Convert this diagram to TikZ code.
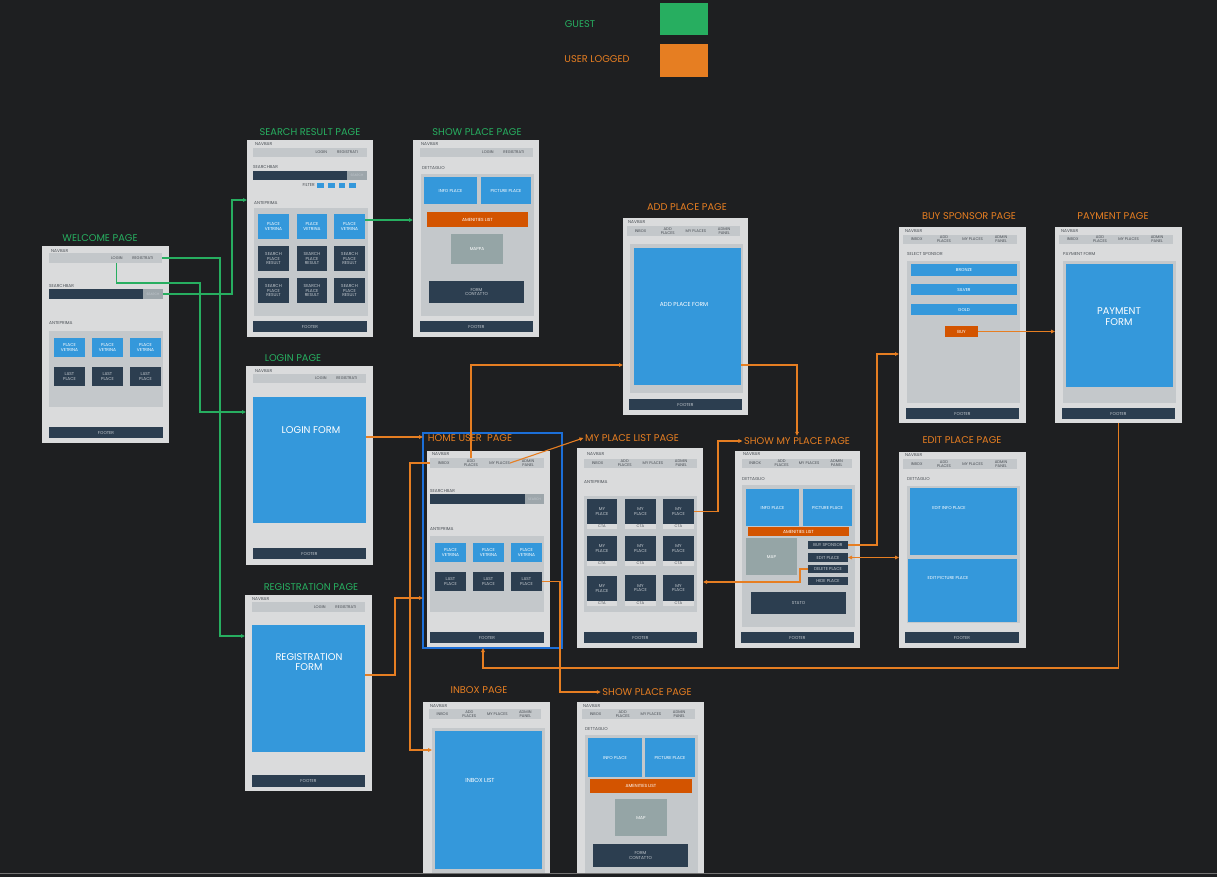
\documentclass[tikz,border=0pt]{standalone}
\usepackage{fontspec}
\setmainfont{Poppins}
\usetikzlibrary{arrows.meta}

\definecolor{bgc}{HTML}{1E1F21}
\definecolor{pagec}{HTML}{DADBDC}
\definecolor{stripc}{HTML}{C3C7CA}
\definecolor{panelc}{HTML}{C4C8CB}
\definecolor{darkc}{HTML}{2C3E50}
\definecolor{bluec}{HTML}{3498DB}
\definecolor{orc}{HTML}{D35400}
\definecolor{mapc}{HTML}{95A5A6}
\definecolor{btnc}{HTML}{9DA6AB}
\definecolor{greenc}{HTML}{27AE60}
\definecolor{orangec}{HTML}{E67E22}
\definecolor{lblc}{HTML}{4A4F55}
\definecolor{lightc}{HTML}{C2C8CE}
\definecolor{hlc}{HTML}{1C6FD8}

\newcommand{\fsz}[2]{\fontsize{#1}{#2}\selectfont}

% box by corners: name, style, x1, y1, x2, y2, text
\newcommand{\bx}[7]{\node[#2,minimum width={(#5-#3)*1pt},minimum height={(#6-#4)*1pt}] (#1) at ({(#3+#5)/2},{(#4+#6)/2}) {#7};}

% guest navbar
\newcommand{\gnav}[5]{%
  \bx{#1Nav}{strip}{#2}{#3}{#4}{#5}{}
  \node[item] (#1Login) at ({#2+0.6*(#4-#2)},{(#3+#5)/2}) {LOGIN};
  \node[item] (#1Reg) at ({#2+0.83*(#4-#2)},{(#3+#5)/2}) {REGISTRATI};}

% logged-in navbar
\newcommand{\unav}[5]{%
  \bx{#1Nav}{strip}{#2}{#3}{#4}{#5}{}
  \node[item] (#1Inbox) at ({#2+0.12*(#4-#2)},{(#3+#5)/2}) {INBOX};
  \node[item] (#1Add) at ({#2+0.36*(#4-#2)},{(#3+#5)/2}) {ADD\\PLACES};
  \node[item] (#1My) at ({#2+0.61*(#4-#2)},{(#3+#5)/2}) {MY PLACES};
  \node[item] (#1Admin) at ({#2+0.86*(#4-#2)},{(#3+#5)/2}) {ADMIN\\PANEL};}

\tikzset{
  box/.style={inner sep=0pt, outer sep=0pt, align=center},
  page/.style={box, fill=pagec},
  strip/.style={box, fill=stripc},
  panel/.style={box, fill=panelc},
  dk/.style={box, fill=darkc, text=lightc, font={\fsz{4.3}{4.9}}},
  bl/.style={box, fill=bluec, text=white, font={\fsz{4.3}{4.9}}},
  orb/.style={box, fill=orc, text=white, font={\fsz{4.4}{5}}},
  mapb/.style={box, fill=mapc, text=white, font={\fsz{4.3}{4.9}}},
  btn/.style={box, fill=btnc, text=lightc, font={\fsz{3.3}{3.8}}},
  cta/.style={box, fill=pagec, text=lblc, font={\fsz{3.8}{4.2}}},
  bigtxt/.style={inner sep=0pt, text=white, align=center, font={\fsz{9.8}{10.8}}},
  midtxt/.style={inner sep=0pt, text=white, align=center, font={\fsz{5.8}{6.8}}},
  lbl/.style={anchor=west, inner sep=0pt, font={\fsz{4.3}{4.8}}, text=lblc},
  item/.style={inner sep=0pt, align=center, font={\fsz{3.9}{4}}, text=lblc},
  gtitle/.style={inner sep=1.5pt, font={\fsz{9.8}{11}}, text=greenc},
  otitle/.style={inner sep=1.5pt, font={\fsz{9.8}{11}}, text=orangec},
  tip/.style={-{Triangle[length=4pt,width=3.6pt]}},
  garr/.style={draw=greenc, line width=1.1pt, tip},
  oarr/.style={draw=orangec, line width=1.1pt, tip},
  oarrb/.style={draw=orangec, line width=1.1pt, {Triangle[length=4pt,width=3.6pt]}-{Triangle[length=4pt,width=3.6pt]}},
}

\begin{document}
\begin{tikzpicture}[x=1pt,y=-1pt]
\fill[bgc] (0,0) rectangle (1217,877);
\useasboundingbox (0,0) rectangle (1217,877);

% ---------- legend ----------
\node[inner sep=0pt, font={\fsz{9.8}{11}}, text=greenc] (legG) at (580,24) {GUEST};
\bx{legGBox}{box,fill=greenc}{660}{3}{708}{35}{}
\node[inner sep=0pt, font={\fsz{9.8}{11}}, text=orangec] (legU) at (597,59) {USER LOGGED};
\bx{legUBox}{box,fill=orangec}{660}{44}{708}{77}{}

% ---------- welcome page ----------
\bx{wPage}{page}{42}{246}{169}{443}{}
\node[lbl] (wNavL) at (51,251) {NAVBAR};
\gnav{w}{49}{253}{162}{263}
\node[lbl] (wSearchL) at (49,286) {SEARCHBAR};
\bx{wSearch}{dk}{49}{289}{143}{299}{}
\bx{wBtn}{btn}{143}{289}{163}{299}{SEARCH}
\node[lbl] (wAnteL) at (49,323) {ANTEPRIMA};
\bx{wPanel}{panel}{49}{331}{163}{407}{}
\bx{wV1}{bl}{54}{338}{85}{357}{PLACE\\VETRINA}
\bx{wV2}{bl}{92}{338}{123}{357}{PLACE\\VETRINA}
\bx{wV3}{bl}{130}{338}{161}{357}{PLACE\\VETRINA}
\bx{wL1}{dk}{54}{367}{85}{386}{LAST\\PLACE}
\bx{wL2}{dk}{92}{367}{123}{386}{LAST\\PLACE}
\bx{wL3}{dk}{130}{367}{161}{386}{LAST\\PLACE}
\bx{wFoot}{dk}{49}{427}{163}{438}{FOOTER}
\node[gtitle] (wTitle) at (100,238) {WELCOME PAGE};

% ---------- search result page ----------
\bx{sPage}{page}{247}{140}{373}{337}{}
\node[lbl] (sNavL) at (255,144) {NAVBAR};
\gnav{s}{253}{148}{367}{157}
\node[lbl] (sSearchL) at (253,167) {SEARCHBAR};
\bx{sSearch}{dk}{253}{171}{347}{180}{}
\bx{sBtn}{btn}{347}{171}{367}{180}{SEARCH}
\node[lbl, anchor=east] (sFilterL) at (315,185.5) {FILTER};
\bx{sF1}{box,fill=bluec}{317}{183}{324}{188}{}
\bx{sF2}{box,fill=bluec}{328}{183}{335}{188}{}
\bx{sF3}{box,fill=bluec}{339}{183}{345}{188}{}
\bx{sF4}{box,fill=bluec}{349}{183}{356}{188}{}
\node[lbl] (sAnteL) at (254,203) {ANTEPRIMA};
\bx{sPanel}{panel}{254}{208}{368}{316}{}
\bx{sV1}{bl}{258}{214}{289}{239}{PLACE\\VETRINA}
\bx{sV2}{bl}{297}{214}{327}{239}{PLACE\\VETRINA}
\bx{sV3}{bl}{334}{214}{365}{239}{PLACE\\VETRINA}
\bx{sR11}{dk}{258}{246}{289}{271}{SEARCH\\PLACE\\RESULT}
\bx{sR12}{dk}{297}{246}{327}{271}{SEARCH\\PLACE\\RESULT}
\bx{sR13}{dk}{334}{246}{365}{271}{SEARCH\\PLACE\\RESULT}
\bx{sR21}{dk}{258}{278}{289}{303}{SEARCH\\PLACE\\RESULT}
\bx{sR22}{dk}{297}{278}{327}{303}{SEARCH\\PLACE\\RESULT}
\bx{sR23}{dk}{334}{278}{365}{303}{SEARCH\\PLACE\\RESULT}
\bx{sFoot}{dk}{253}{321}{367}{332}{FOOTER}
\node[gtitle] (sTitle) at (310,132) {SEARCH RESULT PAGE};

% ---------- show place page (guest) ----------
\bx{pPage}{page}{413}{140}{539}{337}{}
\node[lbl] (pNavL) at (421,144) {NAVBAR};
\gnav{p}{420}{148}{533}{157}
\node[lbl] (pDetL) at (422,168) {DETTAGLIO};
\bx{pPanel}{panel}{421}{174}{534}{316}{}
\bx{pInfo}{bl}{424}{177}{477}{204}{INFO PLACE}
\bx{pPic}{bl}{481}{177}{531}{204}{PICTURE PLACE}
\bx{pAmen}{orb}{427}{212}{528}{227}{AMENITIES LIST}
\bx{pMap}{mapb}{451}{234}{503}{264}{MAPPA}
\bx{pForm}{dk}{429}{281}{524}{303}{FORM\\CONTATTO}
\bx{pFoot}{dk}{420}{321}{533}{332}{FOOTER}
\node[gtitle] (pTitle) at (477,132) {SHOW PLACE PAGE};

% ---------- login page ----------
\bx{lPage}{page}{246}{366}{373}{565}{}
\node[lbl] (lNavL) at (255,371) {NAVBAR};
\gnav{l}{253}{374}{366}{383}
\bx{lForm}{bl}{253}{397}{366}{523}{}
\node[bigtxt] (lFormT) at (311,430) {LOGIN FORM};
\bx{lFoot}{dk}{253}{548}{366}{559}{FOOTER}
\node[gtitle] (lTitle) at (293,358) {LOGIN PAGE};

% ---------- registration page ----------
\bx{rPage}{page}{245}{595}{372}{791}{}
\node[lbl] (rNavL) at (252,599) {NAVBAR};
\gnav{r}{252}{602}{365}{612}
\bx{rForm}{bl}{252}{625}{365}{752}{}
\node[bigtxt] (rFormT) at (309,662) {REGISTRATION\\FORM};
\bx{rFoot}{dk}{252}{775}{365}{787}{FOOTER}
\node[gtitle] (rTitle) at (311,587) {REGISTRATION PAGE};

% ---------- home user page ----------
\bx{hPage}{page}{427}{451}{550}{648}{}
\node[lbl] (hNavL) at (432,454) {NAVBAR};
\unav{h}{430}{458}{544}{468}
\node[lbl] (hSearchL) at (430,491) {SEARCHBAR};
\bx{hSearch}{dk}{430}{494}{525}{504}{}
\bx{hBtn}{btn}{525}{494}{544}{504}{SEARCH}
\node[lbl] (hAnteL) at (430,529) {ANTEPRIMA};
\bx{hPanel}{panel}{430}{536}{544}{612}{}
\bx{hV1}{bl}{435}{543}{466}{562}{PLACE\\VETRINA}
\bx{hV2}{bl}{473}{543}{504}{562}{PLACE\\VETRINA}
\bx{hV3}{bl}{511}{543}{542}{562}{PLACE\\VETRINA}
\bx{hL1}{dk}{435}{572}{466}{591}{LAST\\PLACE}
\bx{hL2}{dk}{473}{572}{504}{591}{LAST\\PLACE}
\bx{hL3}{dk}{511}{572}{542}{591}{LAST\\PLACE}
\bx{hFoot}{dk}{430}{632}{544}{643}{FOOTER}
\bx{hBlue}{box,draw=hlc,line width=1.6pt}{423}{433}{562}{648}{}
\node[otitle] (hTitle) at (470,438) {HOME USER~~PAGE};

% ---------- my place list page ----------
\bx{mPage}{page}{577}{448}{703}{648}{}
\node[lbl] (mNavL) at (587,454) {NAVBAR};
\unav{m}{584}{459}{697}{468}
\node[lbl] (mAnteL) at (584,482) {ANTEPRIMA};
\bx{mPanel}{panel}{584}{496}{697}{612}{}
\bx{m11}{dk}{587}{499}{617}{524}{MY\\PLACE}
\bx{m12}{dk}{625}{499}{656}{524}{MY\\PLACE}
\bx{m13}{dk}{663}{499}{694}{524}{MY\\PLACE}
\bx{m11c}{cta}{587}{524}{617}{529}{CTA}
\bx{m12c}{cta}{625}{524}{656}{529}{CTA}
\bx{m13c}{cta}{663}{524}{694}{529}{CTA}
\bx{m21}{dk}{587}{536}{617}{561}{MY\\PLACE}
\bx{m22}{dk}{625}{536}{656}{561}{MY\\PLACE}
\bx{m23}{dk}{663}{536}{694}{561}{MY\\PLACE}
\bx{m21c}{cta}{587}{561}{617}{566}{CTA}
\bx{m22c}{cta}{625}{561}{656}{566}{CTA}
\bx{m23c}{cta}{663}{561}{694}{566}{CTA}
\bx{m31}{dk}{587}{576}{617}{601}{MY\\PLACE}
\bx{m32}{dk}{625}{575}{656}{601}{MY\\PLACE}
\bx{m33}{dk}{663}{575}{694}{601}{MY\\PLACE}
\bx{m31c}{cta}{587}{601}{617}{606}{CTA}
\bx{m32c}{cta}{625}{601}{656}{606}{CTA}
\bx{m33c}{cta}{663}{601}{694}{606}{CTA}
\bx{mFoot}{dk}{584}{632}{697}{643}{FOOTER}
\node[otitle] (mTitle) at (632,438) {MY PLACE LIST PAGE};

% ---------- show my place page ----------
\bx{smPage}{page}{735}{451}{860}{648}{}
\node[lbl] (smNavL) at (743,454) {NAVBAR};
\unav{sm}{742}{459}{852}{468}
\node[lbl] (smDetL) at (742,479) {DETTAGLIO};
\bx{smPanel}{panel}{742}{485}{855}{627}{}
\bx{smInfo}{bl}{746}{489}{799}{526}{INFO PLACE}
\bx{smPic}{bl}{803}{489}{852}{526}{PICTURE PLACE}
\bx{smAmen}{orb}{748}{527}{849}{536}{AMENITIES LIST}
\bx{smMap}{mapb}{746}{538}{797}{575}{MAP}
\bx{smBuy}{dk}{808}{541}{848}{549}{BUY SPONSOR}
\bx{smEdit}{dk}{808}{553}{848}{562}{EDIT PLACE}
\bx{smDel}{dk}{808}{565}{848}{573}{DELETE PLACE}
\bx{smHide}{dk}{808}{577}{848}{585}{HIDE PLACE}
\bx{smStato}{dk}{751}{592}{846}{614}{STATO}
\bx{smFoot}{dk}{741}{632}{854}{643}{FOOTER}
\node[otitle] (smTitle) at (797,441) {SHOW MY PLACE PAGE};

% ---------- add place page ----------
\bx{aPage}{page}{623}{218}{748}{415}{}
\node[lbl] (aNavL) at (628,222) {NAVBAR};
\unav{a}{627}{226}{740}{236}
\bx{aPanel}{panel}{630}{244}{743}{393}{}
\bx{aForm}{bl}{634}{248}{741}{385}{}
\node[midtxt] (aFormT) at (684,304) {ADD PLACE FORM};
\bx{aFoot}{dk}{629}{399}{742}{410}{FOOTER}
\node[otitle] (aTitle) at (687,207) {ADD PLACE PAGE};

% ---------- buy sponsor page ----------
\bx{bPage}{page}{899}{227}{1026}{423}{}
\node[lbl] (bNavL) at (905,231) {NAVBAR};
\unav{b}{903}{235}{1017}{244}
\node[lbl] (bSelL) at (907,254) {SELECT SPONSOR};
\bx{bPanel}{panel}{907}{261}{1020}{403}{}
\bx{bBronze}{bl}{911}{264}{1017}{276}{BRONZE}
\bx{bSilver}{bl}{911}{284}{1017}{295}{SILVER}
\bx{bGold}{bl}{911}{304}{1017}{315}{GOLD}
\bx{bBuy}{orb}{945}{326}{978}{337}{BUY}
\bx{bFoot}{dk}{906}{408}{1019}{419}{FOOTER}
\node[otitle] (bTitle) at (969,216) {BUY SPONSOR PAGE};

% ---------- payment page ----------
\bx{yPage}{page}{1055}{227}{1182}{423}{}
\node[lbl] (yNavL) at (1061,231) {NAVBAR};
\unav{y}{1059}{235}{1173}{244}
\node[lbl] (yFormL) at (1063,254) {PAYMENT FORM};
\bx{yPanel}{panel}{1063}{261}{1176}{403}{}
\bx{yForm}{bl}{1066}{264}{1173}{387}{}
\node[bigtxt] (yFormT) at (1119,317) {PAYMENT\\FORM};
\bx{yFoot}{dk}{1062}{408}{1175}{419}{FOOTER}
\node[otitle] (yTitle) at (1113,216) {PAYMENT PAGE};

% ---------- edit place page ----------
\bx{ePage}{page}{899}{452}{1026}{648}{}
\node[lbl] (eNavL) at (905,455) {NAVBAR};
\unav{e}{903}{459}{1017}{469}
\node[lbl] (eDetL) at (907,479) {DETTAGLIO};
\bx{ePanel}{panel}{907}{486}{1020}{623}{}
\bx{eInfo}{bl}{910}{488}{1017}{555}{}
\node[inner sep=0pt, text=white, font={\fsz{4.3}{4.9}}] (eInfoT) at (949,508) {EDIT INFO PLACE};
\bx{ePic}{bl}{908}{559}{1017}{622}{}
\node[inner sep=0pt, text=white, font={\fsz{4.3}{4.9}}] (ePicT) at (948,578) {EDIT PICTURE PLACE};
\bx{eFoot}{dk}{905}{632}{1019}{643}{FOOTER}
\node[otitle] (eTitle) at (962,440) {EDIT PLACE PAGE};

% ---------- inbox page ----------
\bx{iPage}{page}{423}{702}{550}{873}{}
\node[lbl] (iNavL) at (430,706) {NAVBAR};
\unav{i}{429}{709}{541}{719}
\bx{iPanel}{panel}{432}{728}{545}{873}{}
\bx{iList}{bl}{435}{731}{542}{869}{}
\node[midtxt] (iListT) at (480,780) {INBOX LIST};
\node[otitle] (iTitle) at (479,690) {INBOX PAGE};

% ---------- show place page (logged in) ----------
\bx{qPage}{page}{577}{702}{704}{873}{}
\node[lbl] (qNavL) at (583,706) {NAVBAR};
\unav{q}{582}{709}{695}{719}
\node[lbl] (qDetL) at (585,729) {DETTAGLIO};
\bx{qPanel}{panel}{585}{735}{698}{873}{}
\bx{qInfo}{bl}{588}{738}{642}{777}{INFO PLACE}
\bx{qPic}{bl}{645}{738}{695}{777}{PICTURE PLACE}
\bx{qAmen}{orb}{590}{779}{692}{793}{AMENITIES LIST}
\bx{qMap}{mapb}{615}{799}{667}{836}{MAP}
\bx{qForm}{dk}{593}{844}{688}{867}{FORM\\CONTATTO}
\node[otitle] (qTitle) at (647,692) {SHOW PLACE PAGE};

% bottom edge
\fill[bgc] (0,873) rectangle (1217,877);
\draw[color=black!55!white, line width=0.6pt] (0,873.3) -- (1217,873.3);

% ---------- guest connectors ----------
\draw[garr] (wNav.east) -- (220,258) -- (220,636) -- (rPage.west |- 0,636);
\draw[garr] (wNav.south -| wLogin) -- (wLogin |- 0,283) -- (200,283) -- (200,412) -- (lPage.west |- 0,412);
\draw[garr] (wBtn.east) -- (232,294) -- (232,200) -- (sPage.west |- 0,200);
\draw[garr] (sV3.east |- 0,220) -- (pPage.west |- 0,220);

% ---------- logged-in connectors ----------
\draw[oarr] (lForm.east |- 0,437) -- (hBlue.west |- 0,437);
\draw[oarr] (rForm.east |- 0,675) -- (395,675) -- (395,598) -- (hBlue.west |- 0,598);
\draw[oarr] (hNav.west) -- (410,463) -- (410,750) -- (iPanel.west |- 0,750);
\draw[oarr] (hNav.north -| hAdd) -- (hAdd |- 0,365) -- (aPage.west |- 0,365);
\draw[oarr] (aForm.east |- 0,365) -| (smTitle.north);
\draw[oarr] (hMy.east) -- (mTitle.west);
\draw[oarr] (m13.east) -| (718,441) -- (smTitle.west);
\draw[oarr] (smDel.west) -- (800,569) -- (800,582) -- (mPage.east |- 0,582);
\draw[oarr] (smBuy.east) -| (877,354) -- (bPage.west |- 0,354);
\draw[oarrb] (smEdit.east) -- (ePage.west |- smEdit.east);
\draw[oarr] (bBuy.east) -- (yPage.west |- bBuy.east);
\draw[oarr] (yPage.south) |- (483,668) -- (hBlue.south -| 483,0);
\draw[oarr] (hL3.east) -| (560,692) -- (qTitle.west);
\end{tikzpicture}
\end{document}
